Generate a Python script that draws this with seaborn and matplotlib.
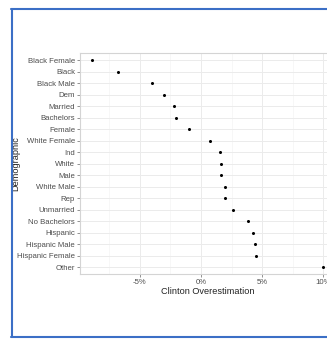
import matplotlib
matplotlib.use("Agg")
import matplotlib.pyplot as plt
from matplotlib.lines import Line2D
from matplotlib.ticker import FixedLocator
import pandas as pd
import seaborn as sns

sns.set_style("white")
plt.rcParams['font.family'] = ['Liberation Sans', 'DejaVu Sans']

# demographic groups, top to bottom
groups = ["Black Female", "Black", "Black Male", "Dem", "Married", "Bachelors",
          "Female", "White Female", "Ind", "White", "Male", "White Male", "Rep",
          "Unmarried", "No Bachelors", "Hispanic", "Hispanic Male",
          "Hispanic Female", "Other"]
# Clinton overestimation in percent points
overest = [-8.9, -6.8, -4.0, -3.0, -2.2, -2.0, -1.0, 0.75, 1.55, 1.6, 1.6,
           1.95, 1.95, 2.65, 3.85, 4.25, 4.45, 4.5, 10.0]
xticks = [-5, 0, 5, 10]
xtick_labels = ["-5%", "0%", "5%", "10%"]

dados = pd.DataFrame({"Demographic": groups, "Overestimation": overest})

fig = plt.figure(figsize=(3.27, 3.39), dpi=100)
ax = fig.add_axes([0.2446, 0.1912, 0.782, 0.6513])

sns.stripplot(data=dados, x="Overestimation", y="Demographic", order=groups,
              jitter=False, color="black", size=2.2, ax=ax, zorder=3)

ax.set_xlim(-9.88, 11.0)
ax.set_ylim(len(groups) - 0.4, -0.6)

# grid like ggplot: major and minor lines
ax.xaxis.set_major_locator(FixedLocator(xticks))
ax.xaxis.set_minor_locator(FixedLocator([-7.5, -2.5, 2.5, 7.5]))
ax.set_xticklabels(xtick_labels)
ax.grid(True, which="major", color="#ebebeb", linewidth=0.7)
ax.grid(True, which="minor", axis="x", color="#f4f4f4", linewidth=0.5)
ax.set_axisbelow(True)

for s in ax.spines.values():
    s.set_color("#d4d4d4")
    s.set_linewidth(0.8)

ax.tick_params(axis="both", which="major", length=2, width=0.5, color="#666666",
               labelsize=5.6, labelcolor="#4d4d4d", pad=1.5, left=True, bottom=True)
ax.tick_params(axis="x", which="minor", length=0)

ax.set_xlabel("Clinton Overestimation", fontsize=6.6, color="#222222", labelpad=1)
ax.set_ylabel("Demographic", fontsize=6.6, color="#222222")
ax.yaxis.set_label_coords(-0.232, 0.5)

# blue frame of the page
blue = "#3b6fc6"
fig.add_artist(Line2D([12 / 327, 12 / 327], [1 - 9 / 339, 1 - 337 / 339],
                      color=blue, linewidth=1.5, transform=fig.transFigure))
fig.add_artist(Line2D([11 / 327, 1.0], [1 - 9 / 339, 1 - 9 / 339],
                      color=blue, linewidth=1.5, transform=fig.transFigure))
fig.add_artist(Line2D([11 / 327, 1.0], [1 - 337 / 339, 1 - 337 / 339],
                      color=blue, linewidth=1.5, transform=fig.transFigure))

fig.savefig("out.png", dpi=100)
